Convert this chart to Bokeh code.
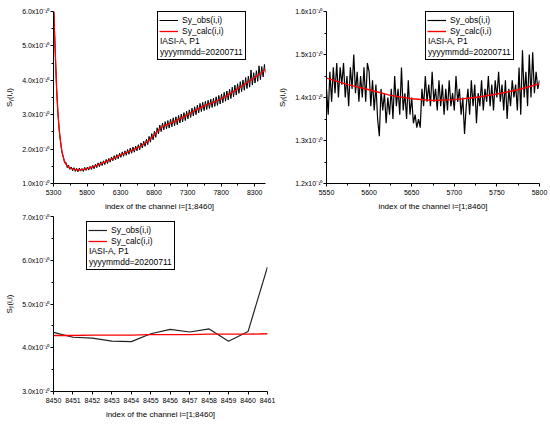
from bokeh.plotting import figure
from bokeh.layouts import column, row
from bokeh.models import FixedTicker, CustomJSTickFormatter, Legend, LegendItem, Range1d
from bokeh.embed import file_html
from bokeh.resources import INLINE

FONT = "Liberation Sans"

# ---------------- data (values in units of 1e-10) ----------------
legend_obs = "Sy_obs(i,i)"
legend_calc = "Sy_calc(i,i)"
legend_extra = ["IASI-A, P1", "yyyymmdd=20200711"]
x_label = "index of the channel i=[1;8460]"
y_label = "S\u1d67(i,i)"

# panel 1
p1_xticks = [5300, 5800, 6300, 6800, 7300, 7800, 8300]
p1_xminor = [5550, 6050, 6550, 7050, 7550, 8050]
p1_yticks = [1.0, 2.0, 3.0, 4.0, 5.0, 6.0]
p1_yminor = [1.5, 2.5, 3.5, 4.5, 5.5]
p1_calc_ch = [5305, 5320, 5335, 5350, 5365, 5380, 5400, 5420, 5440, 5460, 5480, 5500,
              5530, 5560, 5600, 5650, 5700, 5750, 5800, 5900, 6000, 6100, 6200, 6300,
              6400, 6500, 6600, 6700, 6800, 6850, 6900, 6950, 7000, 7100, 7200, 7300,
              7400, 7500, 7600, 7700, 7800, 7900, 8000, 8100, 8200, 8300, 8400, 8461]
p1_calc = [6.00, 5.10, 4.35, 3.60, 3.05, 2.68, 2.28, 2.00, 1.80, 1.67, 1.58, 1.52,
           1.47, 1.44, 1.415, 1.395, 1.393, 1.41, 1.43, 1.49, 1.57, 1.65, 1.74, 1.83,
           1.91, 1.99, 2.09, 2.22, 2.40, 2.52, 2.62, 2.68, 2.71, 2.80, 2.90, 3.00,
           3.11, 3.22, 3.30, 3.37, 3.47, 3.57, 3.69, 3.82, 3.95, 4.08, 4.22, 4.32]
p1_obs_ch = list(range(5305, 8446, 20)) + [8461]
p1_obs = [
    6.00, 4.90, 3.80, 3.10, 2.55, 2.24, 1.90, 1.80, 1.60, 1.62,
    1.46, 1.53, 1.41, 1.48, 1.37, 1.46, 1.35, 1.44, 1.34, 1.45,
    1.36, 1.44, 1.35, 1.47, 1.38, 1.48, 1.39, 1.50, 1.41, 1.53,
    1.43, 1.56, 1.46, 1.60, 1.49, 1.63, 1.52, 1.66, 1.55, 1.70,
    1.58, 1.73, 1.62, 1.77, 1.66, 1.81, 1.69, 1.84, 1.72, 1.88,
    1.76, 1.92, 1.79, 1.95, 1.82, 1.99, 1.85, 2.03, 1.88, 2.06,
    1.91, 2.09, 1.95, 2.13, 1.98, 2.18, 2.03, 2.23, 2.08, 2.29,
    2.13, 2.37, 2.20, 2.45, 2.27, 2.52, 2.34, 2.62, 2.44, 2.70,
    2.51, 2.76, 2.56, 2.80, 2.59, 2.83, 2.61, 2.87, 2.65, 2.91,
    2.68, 2.94, 2.71, 2.98, 2.76, 3.02, 2.79, 3.06, 2.83, 3.10,
    2.88, 3.14, 2.92, 3.19, 2.96, 3.23, 3.00, 3.28, 3.05, 3.33,
    3.09, 3.36, 3.12, 3.39, 3.15, 3.42, 3.18, 3.45, 3.21, 3.48,
    3.24, 3.52, 3.27, 3.56, 3.31, 3.60, 3.35, 3.65, 3.39, 3.69,
    3.43, 3.74, 3.47, 3.80, 3.52, 3.86, 3.57, 3.90, 3.62, 3.96,
    3.67, 4.01, 3.71, 4.08, 3.76, 4.12, 3.80, 4.30, 3.86, 4.22,
    3.92, 4.28, 3.97, 4.42, 4.02, 4.40, 4.10, 4.46, 4.22]

# panel 2
p2_xticks = [5550, 5600, 5650, 5700, 5750, 5800]
p2_xminor = [5575, 5625, 5675, 5725, 5775]
p2_yticks = [1.2, 1.3, 1.4, 1.5, 1.6]
p2_yminor = [1.25, 1.35, 1.45, 1.55]
p2_obs_ch = list(range(5550, 5801, 2))
p2_obs = [
    1.42, 1.36, 1.46, 1.39, 1.47, 1.41, 1.48, 1.40, 1.47, 1.43,
    1.48, 1.40, 1.45, 1.38, 1.47, 1.42, 1.50, 1.41, 1.46, 1.39,
    1.45, 1.40, 1.47, 1.39, 1.48, 1.46, 1.38, 1.44, 1.37, 1.43,
    1.35, 1.31, 1.42, 1.37, 1.41, 1.34, 1.40, 1.36, 1.42, 1.35,
    1.45, 1.38, 1.42, 1.36, 1.47, 1.37, 1.41, 1.35, 1.44, 1.36,
    1.40, 1.34, 1.36, 1.33, 1.35, 1.33, 1.42, 1.38, 1.45, 1.39,
    1.43, 1.38, 1.46, 1.39, 1.42, 1.37, 1.44, 1.38, 1.43, 1.36,
    1.42, 1.37, 1.44, 1.38, 1.41, 1.37, 1.45, 1.39, 1.42, 1.36,
    1.40, 1.315, 1.38, 1.42, 1.36, 1.44, 1.38, 1.43, 1.34, 1.41,
    1.38, 1.44, 1.37, 1.42, 1.39, 1.45, 1.38, 1.43, 1.37, 1.44,
    1.40, 1.46, 1.39, 1.43, 1.37, 1.44, 1.35, 1.42, 1.38, 1.44,
    1.40, 1.43, 1.37, 1.47, 1.36, 1.51, 1.40, 1.46, 1.38, 1.50,
    1.40, 1.505, 1.41, 1.46, 1.42, 1.44]
p2_calc_ch = [5550, 5575, 5600, 5625, 5650, 5675, 5700, 5725, 5750, 5775, 5800]
p2_calc = [1.445, 1.430, 1.418, 1.405, 1.397, 1.393, 1.395, 1.400, 1.408, 1.418, 1.432]

# panel 3
p3_xticks = [8450, 8451, 8452, 8453, 8454, 8455, 8456, 8457, 8458, 8459, 8460, 8461]
p3_xminor = []
p3_yticks = [3.0, 4.0, 5.0, 6.0, 7.0]
p3_yminor = [3.5, 4.5, 5.5, 6.5]
p3_ch = [8450, 8451, 8452, 8453, 8454, 8455, 8456, 8457, 8458, 8459, 8460, 8461]
p3_obs = [4.35, 4.24, 4.22, 4.15, 4.14, 4.32, 4.42, 4.36, 4.43, 4.15, 4.37, 5.85]
p3_calc = [4.28, 4.28, 4.29, 4.29, 4.29, 4.30, 4.30, 4.30, 4.31, 4.31, 4.31, 4.32]

SUP = "x10\u207b\u00b9\u2070"
fmt_code = "return tick.toFixed(1) + '%s';" % SUP


def make_fig(w, h, xr, yr, borders, xt, xm, yt, ym):
    p = figure(width=w, height=h, x_range=Range1d(*xr), y_range=Range1d(*yr),
               output_backend="svg", toolbar_location=None,
               min_border_left=borders[0], min_border_right=borders[1],
               min_border_top=borders[2], min_border_bottom=borders[3])
    p.outline_line_color = None
    p.grid.visible = False
    p.background_fill_color = "white"
    p.border_fill_color = "white"
    p.xaxis.ticker = FixedTicker(ticks=xt, minor_ticks=xm)
    p.yaxis.ticker = FixedTicker(ticks=yt, minor_ticks=ym)
    p.yaxis.formatter = CustomJSTickFormatter(code=fmt_code)
    for ax in p.axis:
        ax.major_tick_out = 3
        ax.major_tick_in = 0
        ax.minor_tick_out = 2
        ax.minor_tick_in = 0
        ax.axis_line_color = "black"
        ax.major_tick_line_color = "black"
        ax.minor_tick_line_color = "black"
        ax.major_label_text_font = FONT
        ax.major_label_text_font_size = "7px"
        ax.major_label_text_color = "black"
        ax.axis_label_text_font = FONT
        ax.axis_label_text_font_size = "8px"
        ax.axis_label_text_font_style = "normal"
        ax.axis_label_text_color = "black"
    p.xaxis.axis_label = x_label
    p.yaxis.axis_label = y_label
    p.xaxis.major_label_standoff = 3
    p.xaxis.axis_label_standoff = 4
    p.yaxis.major_label_standoff = 1
    p.yaxis.axis_label_standoff = 5
    return p


def add_legend(p, r_obs, r_calc, loc):
    dummy = p.line([], [], line_alpha=0)
    common = dict(location=loc, padding=2, margin=0, spacing=1,
                  label_height=10, glyph_height=10,
                  label_text_font=FONT, label_text_font_size="8.5px",
                  label_text_color="black")
    back = Legend(items=[LegendItem(label=" ", renderers=[dummy]),
                         LegendItem(label=" ", renderers=[dummy]),
                         LegendItem(label=legend_extra[0], renderers=[dummy]),
                         LegendItem(label=legend_extra[1], renderers=[dummy])],
                  glyph_width=0, label_standoff=0,
                  border_line_color="black", border_line_width=1, border_line_alpha=1,
                  background_fill_color="white", background_fill_alpha=1, **common)
    front = Legend(items=[LegendItem(label=legend_obs, renderers=[r_obs]),
                          LegendItem(label=legend_calc, renderers=[r_calc]),
                          LegendItem(label=" ", renderers=[dummy]),
                          LegendItem(label=" ", renderers=[dummy])],
                   glyph_width=19, label_standoff=4,
                   border_line_alpha=0, background_fill_alpha=0, **common)
    p.add_layout(back)
    p.add_layout(front)


# panel 1
p1 = make_fig(275, 213, (5300, 8461), (1.0, 6.0), (53, 10, 11, 30),
              p1_xticks, p1_xminor, p1_yticks, p1_yminor)
r1o = p1.line(p1_obs_ch, p1_obs, line_color="black", line_width=1)
r1c = p1.line(p1_calc_ch, p1_calc, line_color="#ff0000", line_width=1.3)
add_legend(p1, r1o, r1c, (104, 123))

# panel 2
p2 = make_fig(275, 213, (5550, 5800), (1.2, 1.6), (50, 11, 11, 30),
              p2_xticks, p2_xminor, p2_yticks, p2_yminor)
r2o = p2.line(p2_obs_ch, p2_obs, line_color="black", line_width=1.2)
r2c = p2.line(p2_calc_ch, p2_calc, line_color="#ff0000", line_width=1.4)
add_legend(p2, r2o, r2c, (99, 123))

# panel 3
p3 = make_fig(275, 211, (8450, 8461), (3.0, 7.0), (53, 8, 3, 33),
              p3_xticks, p3_xminor, p3_yticks, p3_yminor)
r3o = p3.line(p3_ch, p3_obs, line_color="#222222", line_width=1.2)
r3c = p3.line(p3_ch, p3_calc, line_color="#ff0000", line_width=1.3)
add_legend(p3, r3o, r3c, (33, 121))

layout = column(row(p1, p2), p3)
open("out.html", "w").write(file_html(layout, INLINE))
